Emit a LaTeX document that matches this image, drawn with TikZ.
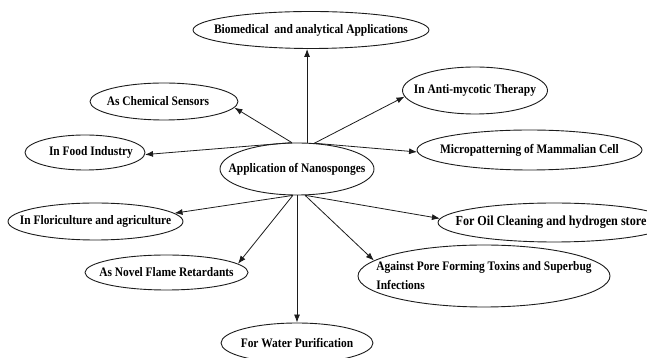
\documentclass[tikz,border=0pt]{standalone}
\usepackage{fontspec}
\setmainfont[FakeStretch=0.88]{Liberation Serif}
\usepackage{tikz}
\usepackage{xcolor}
\usetikzlibrary{arrows.meta,shapes.geometric}
\definecolor{outline}{HTML}{1C1C1C}
\definecolor{paper}{HTML}{FFFFFF}
\newcommand{\inlbl}[1]{\makebox[0pt]{#1}}
\tikzset{
  bubble/.style={draw=outline,fill=paper,ellipse,line width=0.9pt,inner sep=0pt,
                 font=\bfseries\fontsize{13}{19}\selectfont},
  bigbubble/.style={bubble,font=\bfseries\fontsize{13.8}{19}\selectfont},
  linkarr/.style={-{Latex[length=8pt,width=6pt]},line width=0.8pt,draw=outline}
}
\begin{document}
\begin{tikzpicture}[x=1pt,y=1pt]
    \clip (0,0) rectangle (647,358);
    \node[bubble,minimum width=154,minimum height=52] (app) at (297,189)
      {\inlbl{Application of Nanosponges}};
    \node[bubble,minimum width=236,minimum height=37] (bio) at (311,328)
      {\inlbl{Biomedical\ \ and analytical Applications}};
    \node[bubble,minimum width=148,minimum height=37] (chem) at (164,256.5)
      {\inlbl{As Chemical Sensors\hspace*{12pt}}};
    \node[bubble,minimum width=145,minimum height=47] (myco) at (475,267.5)
      {\inlbl{In Anti-mycotic Therapy}};
    \node[bubble,minimum width=120,minimum height=35] (food) at (85,205.5)
      {\inlbl{\hspace*{12pt}In Food Industry}};
    \node[bubble,minimum width=225,minimum height=40] (micro) at (529.5,208)
      {\inlbl{Micropatterning of Mammalian Cell}};
    \node[bubble,minimum width=175,minimum height=37] (flori) at (95.5,136.5)
      {\inlbl{In Floriculture and agriculture}};
    \node[bigbubble,minimum width=232,minimum height=39] (oil) at (554,135.5)
      {\inlbl{\hspace*{-6pt}For Oil Cleaning and hydrogen store}};
    \node[bubble,minimum width=163,minimum height=35] (flame) at (166.5,85.5)
      {\inlbl{As Novel Flame Retardants}};
    \node[bubble,minimum width=252,minimum height=62] (against) at (484,82)
      {\inlbl{\begin{tabular}{@{}l@{}}Against Pore Forming Toxins and Superbug\\Infections\end{tabular}}};
    \node[bubble,minimum width=152,minimum height=40] (water) at (297,15)
      {\inlbl{For Water Purification}};
    \draw[linkarr] (app.101) -- (chem.355);
    \draw[linkarr] (app.69) -- (app.69 |- bio.south);
    \draw[linkarr] (app.56) -- (myco.185);
    \draw[linkarr] (app.101) -- (food.358);
    \draw[linkarr] (app.56) -- (micro.181);
    \draw[linkarr] (app.261) -- (flori.6);
    \draw[linkarr] (app.287) -- (oil.178);
    \draw[linkarr] (app.261) -- (flame.7);
    \draw[linkarr] (app) -- (water);
    \draw[linkarr] (app.287) -- (against.172);
  \end{tikzpicture}
\end{document}
